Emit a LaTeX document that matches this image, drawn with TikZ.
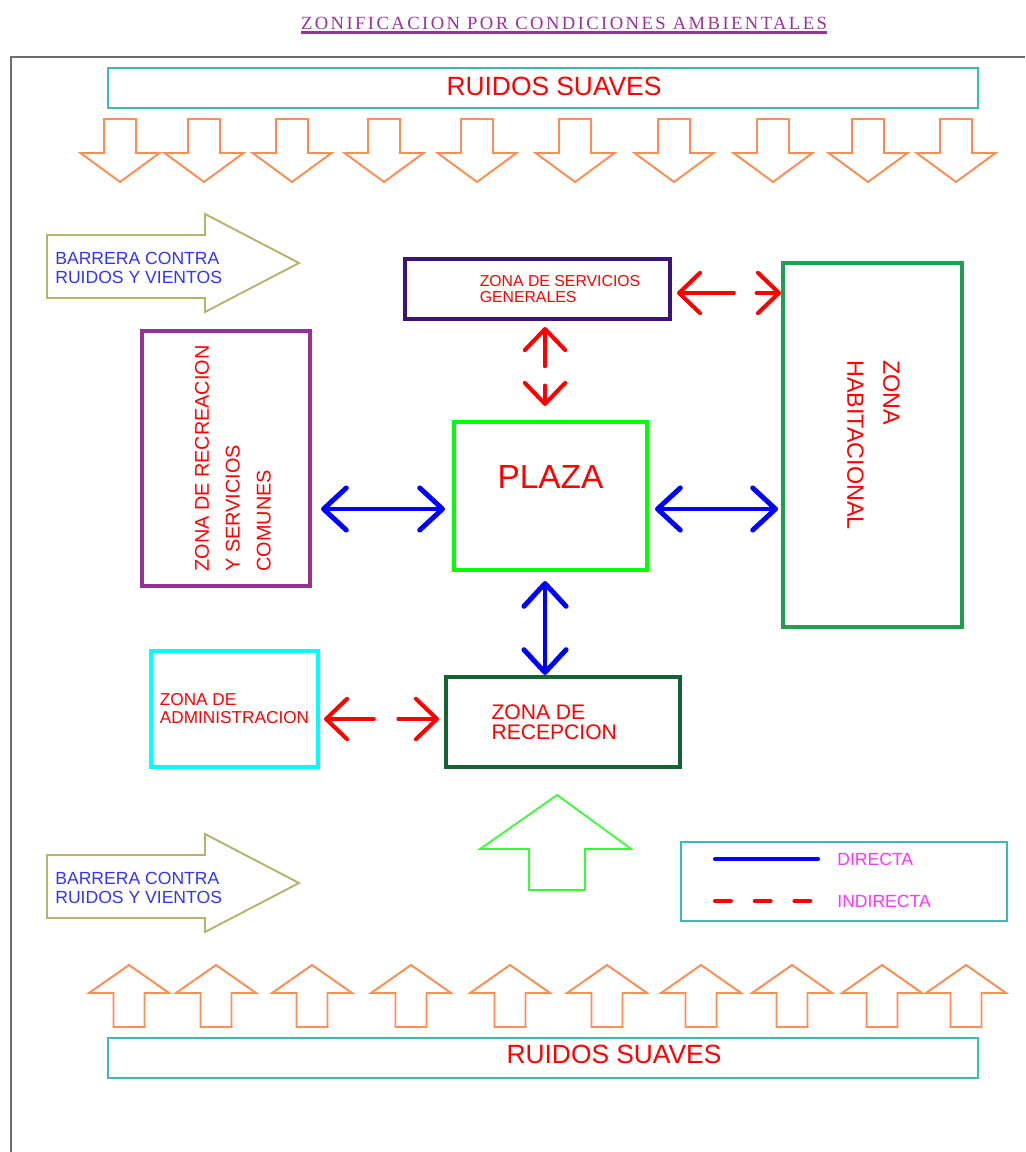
\documentclass[tikz,border=0pt]{standalone}
\usepackage{fontspec}
\setmainfont{Liberation Sans}
\newfontfamily\titlefont{Liberation Serif}[LetterSpace=13]
\usepackage{xcolor}
\usepackage{tikz}
\usetikzlibrary{arrows.meta, calc}
\definecolor{TitlePurple}{RGB}{153, 51, 153}
\definecolor{FrameGray}{RGB}{110, 110, 110}
\definecolor{RuidoTeal}{RGB}{60, 185, 185}
\definecolor{RuidoOrange}{RGB}{255, 140, 80}
\definecolor{BarreraOlive}{RGB}{180, 180, 110}
\definecolor{BarreraBlue}{RGB}{51, 51, 255}
\definecolor{ZonaRed}{RGB}{255, 0, 0}
\definecolor{LinkBlue}{RGB}{0, 0, 255}
\definecolor{ServPurple}{RGB}{60, 20, 120}
\definecolor{RecrPurple}{RGB}{150, 50, 150}
\definecolor{PlazaGreen}{RGB}{0, 255, 0}
\definecolor{HabGreen}{RGB}{30, 160, 80}
\definecolor{AdmCyan}{RGB}{0, 255, 255}
\definecolor{RecepGreen}{RGB}{20, 100, 50}
\definecolor{EntradaGreen}{RGB}{51, 255, 51}
\definecolor{LeyMagenta}{RGB}{255, 51, 255}

\tikzset{
  zona/.style={draw, line width=2.3pt, text=ZonaRed, inner sep=0pt, align=left},
  franja/.style={draw=RuidoTeal, line width=1.1pt, inner sep=0pt},
  ruidotxt/.style={text=ZonaRed, inner sep=0pt, font=\fontsize{15}{15}\selectfont},
  ruidoflecha/.style={draw=RuidoOrange, line width=1.1pt},
  barrera/.style={draw=BarreraOlive, line width=1.1pt},
  barreratxt/.style={text=BarreraBlue, inner sep=0pt, align=left, font=\fontsize{10}{10.8}\selectfont},
  directa/.style={draw=LinkBlue, line width=2.8pt, line cap=round,
    {Straight Barb[length=13pt, width=24pt, round]}-{Straight Barb[length=13pt, width=24pt, round]}},
  indirecta/.style={draw=ZonaRed, line width=2.3pt, line cap=round, dash pattern=#1,
    {Straight Barb[length=12pt, width=23pt, round]}-{Straight Barb[length=12pt, width=23pt, round]}},
  leytxt/.style={text=LeyMagenta, inner sep=0pt, anchor=west, font=\fontsize{10}{10}\selectfont},
  bajada/.pic={\draw[ruidoflecha] (-16,0) -- (16,0) -- (16,34) -- (39.5,34) -- (0,63) -- (-39.5,34) -- (-16,34) -- cycle;},
  subida/.pic={\draw[ruidoflecha] (0,0) -- (40,28) -- (15.5,28) -- (15.5,62) -- (-15.5,62) -- (-15.5,28) -- (-40,28) -- cycle;}
}

\begin{document}
\begin{tikzpicture}[x=0.02cm, y=-0.02cm]
    \useasboundingbox (0,0) rectangle (1025,1152);
    \draw[FrameGray, line width=1.1pt] (11,1152) -- (11,57) -- (1025,57);

    \node[
      text=TitlePurple,
      inner sep=0pt,
      font=\titlefont\fontsize{10.6}{10.6}\selectfont
    ] (titulo) at (564,23) {ZONIFICACION POR CONDICIONES AMBIENTALES};
    \draw[TitlePurple, line width=1.7pt] ([yshift=-0.06cm]titulo.south west) -- ([yshift=-0.06cm]titulo.south east);

    \node[franja, minimum width=17.4cm, minimum height=0.8cm] (ruidosup) at (543,88) {};
    \node[ruidotxt] (ruidosuptxt) at ([xshift=0.22cm,yshift=0.04cm]ruidosup.center) {RUIDOS SUAVES};
    \node[franja, minimum width=17.4cm, minimum height=0.8cm] (ruidoinf) at (543,1058) {};
    \node[ruidotxt] (ruidoinftxt) at ([xshift=1.42cm,yshift=0.08cm]ruidoinf.center) {RUIDOS SUAVES};

    \foreach \xa in {120,204,292,384,477,575,674,773,868,956}
      \pic at (\xa,119) {bajada};
    \foreach \xa in {129,216,312,411,510,607,701,792,882,966}
      \pic at (\xa,965) {subida};

    \foreach \yb/\nb in {263/1, 883/2} {
      \draw[barrera] (47,\yb-28) -- (205,\yb-28) -- (205,\yb-49) -- (299,\yb) -- (205,\yb+49) -- (205,\yb+35) -- (47,\yb+35) -- cycle;
      \node[barreratxt, anchor=west] (barrera\nb) at (55,\yb+4.5) {BARRERA CONTRA\\RUIDOS Y VIENTOS};
    }

    \node[zona, draw=ServPurple, minimum width=5.3cm, minimum height=1.2cm] (serv) at (537.5,289) {};
    \node[text=ZonaRed, inner sep=0pt, align=left, font=\fontsize{9}{9}\selectfont] (servtxt)
      at ([xshift=0.45cm]serv.center) {ZONA DE SERVICIOS\\GENERALES};

    \node[zona, draw=PlazaGreen, minimum width=3.86cm, minimum height=2.96cm] (plaza) at (550.5,496) {};
    \node[text=ZonaRed, inner sep=0pt, font=\fontsize{19}{19}\selectfont] (plazatxt)
      at ([yshift=0.38cm]plaza.center) {PLAZA};

    \node[zona, draw=RecrPurple, minimum width=3.36cm, minimum height=5.1cm, font=\fontsize{11.3}{17.6}\selectfont] (recr)
      at (226,458.5) {\hspace*{0.3cm}\rotatebox{90}{\begin{tabular}{@{}l@{}}ZONA DE RECREACION\\Y SERVICIOS\\COMUNES\end{tabular}}};

    \node[zona, draw=HabGreen, minimum width=3.58cm, minimum height=7.28cm, font=\fontsize{13.3}{20.4}\selectfont] (hab)
      at (872.5,445) {\rotatebox{-90}{\begin{tabular}{@{}l@{}}ZONA\\HABITACIONAL\end{tabular}}};

    \node[zona, draw=AdmCyan, minimum width=3.34cm, minimum height=2.32cm, font=\fontsize{9.8}{10.2}\selectfont] (adm)
      at (234.5,709) {ZONA DE\\ADMINISTRACION};

    \node[zona, draw=RecepGreen, minimum width=4.68cm, minimum height=1.8cm, font=\fontsize{12}{11.3}\selectfont] (recep)
      at (563,722) {ZONA DE\\RECEPCION\hspace*{0.35cm}};

    \draw[EntradaGreen, line width=1pt] (557,795) -- (631,849) -- (585,849) -- (585,890) -- (529,890) -- (529,849) -- (480,849) -- cycle;

    \draw[indirecta={on 30pt off 13pt on 80pt off 1pt}] ([xshift=0.1cm,yshift=-0.08cm]serv.east) -- ([yshift=-0.08cm]serv.east -| hab.west);
    \draw[indirecta={on 20pt off 11pt on 80pt off 1pt}] ([xshift=-0.11cm,yshift=-0.12cm]plaza.north |- serv.south) -- ([xshift=-0.11cm,yshift=0.28cm]plaza.north);
    \draw[directa] ([xshift=0.18cm,yshift=-0.26cm]plaza.west -| recr.east) -- ([xshift=-0.14cm,yshift=-0.26cm]plaza.west);
    \draw[directa] ([xshift=0.12cm,yshift=-0.26cm]plaza.east) -- ([xshift=-0.06cm,yshift=-0.26cm]plaza.east -| hab.west);
    \draw[directa] ([xshift=-0.11cm,yshift=-0.18cm]plaza.south) -- ([xshift=-0.11cm]plaza.south |- recep.north);
    \draw[indirecta={on 26pt off 14pt on 80pt off 1pt}] ([xshift=0.08cm,yshift=0.06cm]recep.west -| adm.east) -- ([xshift=-0.1cm,yshift=0.06cm]recep.west);

    \node[franja, minimum width=6.52cm, minimum height=1.58cm] (leyenda) at (844,881.5) {};
    \node[leytxt] (ldir) at ([xshift=-0.14cm,yshift=0.45cm]leyenda.center) {DIRECTA};
    \node[leytxt] (lind) at ([xshift=-0.14cm,yshift=-0.39cm]leyenda.center) {INDIRECTA};
    \draw[LinkBlue, line width=2.3pt, line cap=round] ([xshift=-0.38cm]ldir.west) -- ([xshift=-2.44cm]ldir.west);
    \draw[ZonaRed, line width=2.3pt, line cap=round, dash pattern=on 9pt off 13.6pt] ([xshift=-2.44cm]lind.west) -- ([xshift=-0.48cm]lind.west);
\end{tikzpicture}
\end{document}
